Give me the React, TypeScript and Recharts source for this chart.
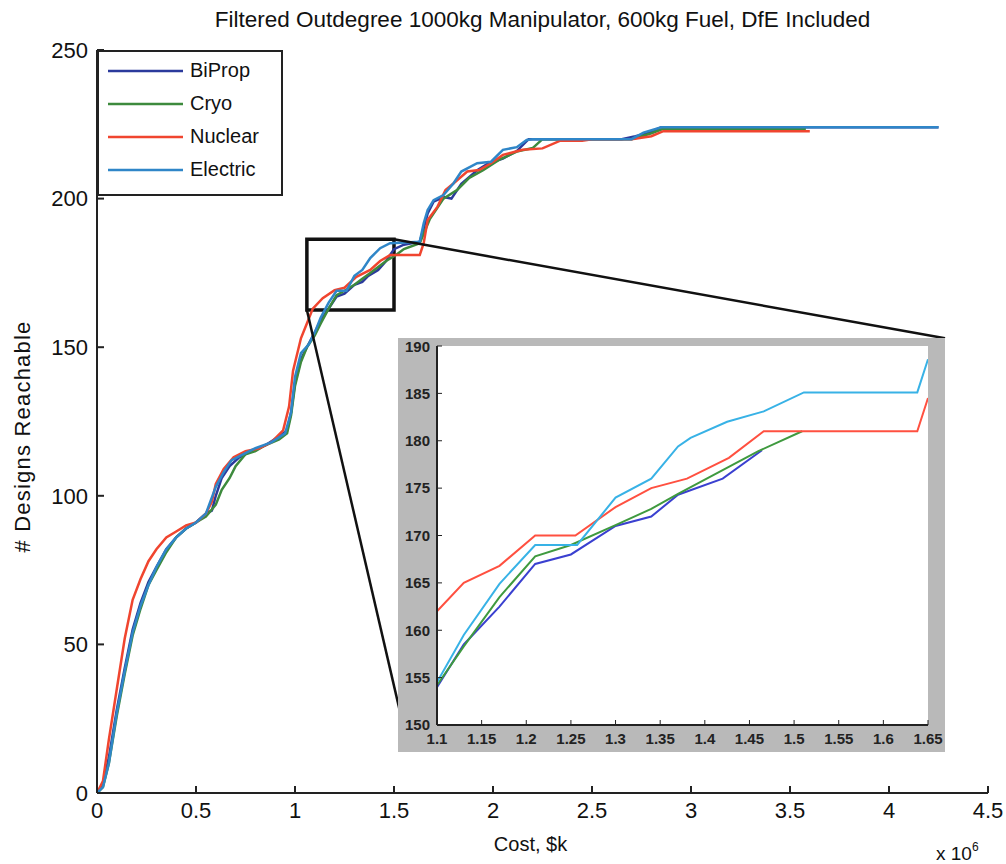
import { CartesianGrid, Legend, Line, LineChart, ReferenceArea, ReferenceLine, XAxis, YAxis } from 'recharts'

const FONT = '"Liberation Sans", Arial, Helvetica, sans-serif'
const NARROW = '"Liberation Sans Narrow", "Liberation Sans", Arial, sans-serif'

type Row = [number, number]

// cost (x 10^6 $k) vs. number of designs reachable
const biProp: Row[] = [
  [0, 0], [0.03, 3], [0.06, 12], [0.1, 28], [0.14, 42], [0.18, 55], [0.22, 64], [0.26, 71], [0.3, 76],
  [0.35, 82], [0.4, 86], [0.45, 89], [0.5, 91], [0.55, 94], [0.58, 95], [0.6, 100], [0.63, 106],
  [0.67, 110], [0.72, 113], [0.78, 115], [0.85, 117], [0.92, 120], [0.96, 122], [0.98, 128], [1.0, 138],
  [1.03, 146], [1.06, 150], [1.1, 155], [1.13, 159], [1.17, 163], [1.21, 167], [1.25, 168], [1.3, 171],
  [1.34, 172], [1.37, 174], [1.42, 176], [1.46, 179], [1.5, 183], [1.55, 184.5], [1.63, 185.5],
  [1.65, 190], [1.67, 195], [1.7, 199], [1.75, 200.5], [1.79, 200], [1.84, 205], [1.92, 209.5],
  [1.98, 212], [2.05, 213.5], [2.12, 216], [2.18, 220], [2.65, 220], [2.72, 221], [2.78, 222],
  [2.85, 224], [4.25, 224],
]
const cryo: Row[] = [
  [0, 0], [0.03, 2], [0.06, 10], [0.1, 26], [0.14, 40], [0.18, 53], [0.22, 62], [0.26, 70], [0.3, 75],
  [0.35, 81], [0.4, 86], [0.45, 89], [0.5, 91], [0.55, 93], [0.6, 97], [0.63, 102], [0.67, 106],
  [0.7, 110], [0.75, 114], [0.8, 115], [0.85, 117], [0.92, 119], [0.96, 121], [0.98, 127], [1.0, 137],
  [1.03, 145], [1.06, 150], [1.1, 154], [1.13, 158], [1.17, 163], [1.21, 167.5], [1.25, 169], [1.3, 171],
  [1.34, 173], [1.37, 174.5], [1.42, 177], [1.46, 179], [1.51, 181], [1.55, 183], [1.63, 185],
  [1.68, 193], [1.75, 200], [1.82, 203], [1.88, 207], [1.95, 209.6], [2.03, 213], [2.12, 215.8],
  [2.2, 217], [2.25, 220], [2.7, 220], [2.75, 221], [2.8, 222], [2.86, 223.5], [3.58, 223.5],
]
const nuclear: Row[] = [
  [0, 0], [0.03, 4], [0.06, 18], [0.1, 35], [0.14, 52], [0.18, 65], [0.22, 72], [0.26, 78], [0.3, 82],
  [0.35, 86], [0.4, 88], [0.45, 90], [0.5, 91], [0.55, 94], [0.58, 98], [0.6, 104], [0.64, 109],
  [0.69, 113], [0.75, 115], [0.82, 116], [0.88, 118], [0.94, 122], [0.97, 130], [0.99, 142], [1.03, 153],
  [1.06, 158], [1.09, 163], [1.14, 166.5], [1.2, 169.2], [1.25, 170], [1.31, 173.7], [1.38, 176],
  [1.43, 179], [1.48, 181], [1.63, 181], [1.65, 185], [1.67, 192.8], [1.72, 197.3], [1.76, 202.9],
  [1.8, 205.1], [1.87, 209.1], [1.93, 209.6], [1.99, 211.9], [2.05, 214.7], [2.15, 216.4], [2.25, 216.9],
  [2.34, 219.5], [2.45, 219.5], [2.5, 220], [2.7, 220], [2.8, 221], [2.86, 222.7], [3.6, 222.7],
]
const electric: Row[] = [
  [0, 0], [0.03, 2], [0.06, 10], [0.1, 27], [0.14, 41], [0.18, 54], [0.22, 63], [0.26, 70], [0.3, 76],
  [0.35, 82], [0.4, 86], [0.45, 89], [0.5, 91], [0.55, 94], [0.6, 103], [0.64, 108], [0.68, 112],
  [0.74, 114], [0.8, 116], [0.88, 118], [0.95, 121], [0.98, 128], [1.0, 140], [1.03, 148], [1.07, 151],
  [1.1, 155], [1.13, 160], [1.17, 165], [1.21, 169], [1.26, 169], [1.3, 174], [1.34, 176], [1.38, 180],
  [1.43, 183.3], [1.48, 185], [1.63, 185.5], [1.65, 191.7], [1.67, 196.2], [1.7, 199.5], [1.75, 201.2],
  [1.8, 205.1], [1.84, 209.1], [1.92, 211.9], [1.99, 212.4], [2.05, 216.4], [2.12, 217.3], [2.17, 219.7],
  [2.2, 220], [2.7, 220], [2.76, 222.2], [2.85, 224], [4.25, 224],
]

// zoomed inset, 1.1 - 1.65 x 10^6
const biPropZoom: Row[] = [
  [1.1, 154], [1.13, 158.5], [1.17, 162.5], [1.21, 167], [1.25, 168], [1.3, 171], [1.34, 172],
  [1.37, 174.3], [1.42, 176], [1.464, 179],
]
const cryoZoom: Row[] = [
  [1.1, 154.2], [1.13, 158.3], [1.17, 163.5], [1.21, 167.8], [1.25, 169], [1.3, 171.1], [1.34, 172.8],
  [1.37, 174.4], [1.42, 176.9], [1.46, 178.9], [1.509, 181],
]
const nuclearZoom: Row[] = [
  [1.1, 162], [1.13, 165], [1.17, 166.8], [1.21, 170], [1.255, 170], [1.3, 173], [1.34, 175],
  [1.38, 176], [1.427, 178.2], [1.466, 181], [1.638, 181], [1.65, 184.5],
]
const electricZoom: Row[] = [
  [1.1, 154.5], [1.13, 159.5], [1.17, 164.9], [1.21, 169], [1.257, 169], [1.3, 174], [1.34, 176],
  [1.37, 179.4], [1.384, 180.3], [1.425, 182], [1.466, 183.1], [1.511, 185.1], [1.638, 185.1],
  [1.65, 188.6],
]

const X_TICKS = [0, 0.5, 1, 1.5, 2, 2.5, 3, 3.5, 4, 4.5]
const Y_TICKS = [0, 50, 100, 150, 200, 250]
const ZOOM_X_TICKS = [1.1, 1.15, 1.2, 1.25, 1.3, 1.35, 1.4, 1.45, 1.5, 1.55, 1.6, 1.65]
const ZOOM_Y_TICKS = [150, 155, 160, 165, 170, 175, 180, 185, 190]

// zoom box and the two leader lines
const ZOOM_BOX = { x1: 1.06, x2: 1.5, y1: 162.5, y2: 186.3 }
const LEADER_TOP = [{ x: 1.5, y: 186.3 }, { x: 4.283, y: 153 }]
const LEADER_BOTTOM = [{ x: 1.06, y: 162.5 }, { x: 1.575, y: 14.5 }]

const MAIN_COLORS = ['#2b3a9c', '#3d8a3d', '#f0452f', '#2f86c8']
const ZOOM_COLORS = ['#3a40d0', '#3f9a3f', '#ff5040', '#38b2e6']
const NAMES = ['BiProp', 'Cryo', 'Nuclear', 'Electric']

const toPts = (rows: Row[]) => rows.map(([x, y]) => ({ x, y }))

const mainSeries = [biProp, cryo, nuclear, electric]
const zoomSeries = [biPropZoom, cryoZoom, nuclearZoom, electricZoom]

const renderLegend = (props: any) => {
  // keep plotting order, not alphabetical
  const items = [...(props.payload ?? [])].sort(
    (a: any, b: any) => NAMES.indexOf(a.value) - NAMES.indexOf(b.value),
  )
  return (
    <div
      style={{
        border: '2px solid #222',
        background: '#fff',
        padding: '2px 0 8px 0',
        width: 186,
        boxSizing: 'border-box',
      }}
    >
      {items.map((p: any) => (
        <div key={p.value} style={{ display: 'flex', alignItems: 'center', height: 33 }}>
          <svg width={91} height={10}>
            <line x1={9} x2={84} y1={5} y2={5} stroke={p.color} strokeWidth={2.5} />
          </svg>
          <span style={{ fontSize: 20, color: '#111', fontFamily: FONT }}>{p.value}</span>
        </div>
      ))}
    </div>
  )
}

const axisStroke = { stroke: '#222', strokeWidth: 2 }
const mainTick = { fontSize: 22, fill: '#111', fontFamily: FONT }
const zoomTick = { fontSize: 15, fill: '#222', fontWeight: 700, fontFamily: NARROW }

const ZoomInset = () => (
  <div
    style={{
      position: 'absolute',
      left: 398,
      top: 338,
      width: 547,
      height: 414,
      background: '#b9b9b9',
    }}
  >
    <LineChart width={547} height={414} margin={{ top: 8, right: 17, bottom: 0, left: 0 }}>
      <CartesianGrid horizontal={false} vertical={false} fill="#ffffff" />
      <XAxis
        dataKey="x"
        type="number"
        domain={[1.1, 1.65]}
        ticks={ZOOM_X_TICKS}
        allowDataOverflow
        height={27}
        tickSize={-5}
        tickMargin={13}
        axisLine={axisStroke}
        tickLine={{ stroke: '#222' }}
        tick={zoomTick}
      />
      <XAxis
        xAxisId="top"
        orientation="top"
        type="number"
        domain={[1.1, 1.65]}
        ticks={ZOOM_X_TICKS}
        height={0}
        tickSize={-5}
        tick={false}
        axisLine={axisStroke}
        tickLine={{ stroke: '#222' }}
      />
      <YAxis
        type="number"
        domain={[150, 190]}
        ticks={ZOOM_Y_TICKS}
        allowDataOverflow
        width={39}
        tickSize={-5}
        tickMargin={12}
        axisLine={axisStroke}
        tickLine={{ stroke: '#222' }}
        tick={zoomTick}
      />
      <YAxis
        yAxisId="right"
        orientation="right"
        type="number"
        domain={[150, 190]}
        ticks={ZOOM_Y_TICKS}
        width={0}
        tickSize={-5}
        tick={false}
        axisLine={axisStroke}
        tickLine={{ stroke: '#222' }}
      />
      {zoomSeries.map((rows, i) => (
        <Line
          key={NAMES[i]}
          data={toPts(rows)}
          dataKey="y"
          name={NAMES[i]}
          type="linear"
          stroke={ZOOM_COLORS[i]}
          strokeWidth={2}
          dot={false}
          isAnimationActive={false}
        />
      ))}
    </LineChart>
  </div>
)

export default function App() {
  return (
    <div
      style={{
        position: 'absolute',
        left: 0,
        top: 0,
        width: 1006,
        height: 864,
        background: '#fff',
        fontFamily: FONT,
        overflow: 'hidden',
      }}
    >
      <div
        style={{
          position: 'absolute',
          left: 97,
          width: 891,
          top: 7,
          textAlign: 'center',
          fontSize: 22.5,
          color: '#111',
        }}
      >
        Filtered Outdegree 1000kg Manipulator, 600kg Fuel, DfE Included
      </div>
      <LineChart width={1006} height={864} margin={{ top: 50, right: 18, bottom: 31, left: 0 }}>
        <XAxis
          dataKey="x"
          type="number"
          domain={[0, 4.5]}
          ticks={X_TICKS}
          height={40}
          tickSize={-7}
          tickMargin={16}
          axisLine={axisStroke}
          tickLine={{ stroke: '#222', strokeWidth: 2 }}
          tick={mainTick}
          label={{ value: 'Cost, $k', position: 'bottom', offset: 4, dx: -12, fontSize: 20, fill: '#111' }}
        />
        <XAxis
          xAxisId="top"
          orientation="top"
          type="number"
          domain={[0, 4.5]}
          ticks={X_TICKS}
          height={0}
          tickSize={-7}
          tick={false}
          axisLine={axisStroke}
          tickLine={{ stroke: '#222', strokeWidth: 2 }}
        />
        <YAxis
          type="number"
          domain={[0, 250]}
          ticks={Y_TICKS}
          width={97}
          tickSize={-7}
          tickMargin={16}
          axisLine={axisStroke}
          tickLine={{ stroke: '#222', strokeWidth: 2 }}
          tick={mainTick}
          label={{
            value: '# Designs Reachable',
            angle: -90,
            position: 'insideLeft',
            offset: 22,
            dy: 15,
            fontSize: 22,
            fill: '#111',
            style: { textAnchor: 'middle', letterSpacing: 1.2 },
          }}
        />
        <YAxis
          yAxisId="right"
          orientation="right"
          type="number"
          domain={[0, 250]}
          ticks={Y_TICKS}
          width={0}
          tickSize={-7}
          tick={false}
          axisLine={axisStroke}
          tickLine={{ stroke: '#222', strokeWidth: 2 }}
        />
        {mainSeries.map((rows, i) => (
          <Line
            key={NAMES[i]}
            data={toPts(rows)}
            dataKey="y"
            name={NAMES[i]}
            type="linear"
            stroke={MAIN_COLORS[i]}
            strokeWidth={2.5}
            dot={false}
            isAnimationActive={false}
          />
        ))}
        <ReferenceArea {...ZOOM_BOX} fill="none" stroke="#111" strokeWidth={3.5} ifOverflow="visible" />
        <ReferenceLine segment={LEADER_TOP} stroke="#111" strokeWidth={2.5} ifOverflow="visible" />
        <ReferenceLine segment={LEADER_BOTTOM} stroke="#111" strokeWidth={2.5} ifOverflow="visible" />
        <Legend
          layout="vertical"
          align="center"
          verticalAlign="middle"
          content={renderLegend}
          wrapperStyle={{ left: 97, top: 50, width: 186 }}
        />
      </LineChart>
      <ZoomInset />
      <div style={{ position: 'absolute', left: 936, top: 842, fontSize: 19, color: '#111' }}>
        x 10<sup style={{ fontSize: 12, position: 'relative', top: -2 }}>6</sup>
      </div>
    </div>
  )
}
